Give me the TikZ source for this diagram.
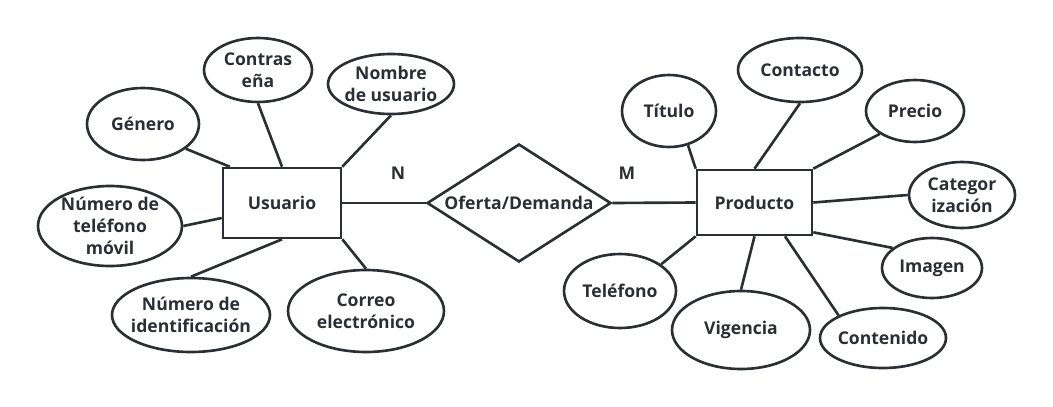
\documentclass[tikz,border=0pt]{standalone}
\usepackage{fontspec}
\setmainfont{Open Sans}
\usepackage{xcolor}
\usetikzlibrary{shapes.geometric, positioning}
\definecolor{ink}{HTML}{2B2E33}

\begin{document}
\begin{tikzpicture}[x=0.02cm, y=-0.02cm, color=ink, line width=1.5pt,
    font=\bfseries\fontsize{10}{12.5}\selectfont,
    attr/.style={draw, ellipse, inner sep=-3pt, align=center},
    entity/.style={draw, rectangle, inner sep=0pt},
    rel/.style={draw, diamond, inner sep=0pt, aspect=1.55}]
    \useasboundingbox (0,0) rectangle (1053,406);

    % left entity and its attributes
    \node[entity, minimum width=2.36cm, minimum height=1.4cm] (usuario) at (282,203) {Usuario};
    \node[attr, minimum width=2.16cm, minimum height=1.28cm] (contra) at (258,70) {Contras\\eña};
    \node[attr, minimum width=2.52cm, minimum height=1.2cm] (nombre) at (391,84) {Nombre\\de usuario};
    \node[attr, minimum width=2.24cm, minimum height=1.44cm] (genero) at (143,124) {Género};
    \node[attr, minimum width=2.88cm, minimum height=1.6cm] (movil) at (110,226) {Número de\\teléfono\\móvil};
    \node[attr, minimum width=3.16cm, minimum height=1.48cm] (ident) at (191,315) {Número de\\identificación};
    \node[attr, minimum width=3.12cm, minimum height=1.64cm] (correo) at (366,311) {Correo\\electrónico};

    % relationship
    \node[rel, minimum width=3.68cm, minimum height=2.36cm] (oferta) at (519,203) {Oferta/Demanda};
    \node (labN) at (398,173) {N};
    \node (labM) at (627,173) {M};

    % right entity and its attributes
    \node[entity, minimum width=2.3cm, minimum height=1.3cm] (producto) at (754.5,202.5) {Producto};
    \node[attr, minimum width=1.88cm, minimum height=1.44cm] (titulo) at (669,111) {Título};
    \node[attr, minimum width=2.48cm, minimum height=1.28cm] (contacto) at (800,70) {Contacto};
    \node[attr, minimum width=1.96cm, minimum height=1.24cm] (precio) at (915,111) {Precio};
    \node[attr, minimum width=2.12cm, minimum height=1.32cm] (categ) at (962,195) {Categor\\ización};
    \node[attr, minimum width=2.0cm, minimum height=1.2cm] (imagen) at (932,268) {Imagen};
    \node[attr, minimum width=2.52cm, minimum height=1.2cm] (contenido) at (883,338) {Contenido};
    \node[attr, minimum width=2.76cm, minimum height=1.56cm] (vigencia) at (741,330) {Vigencia};
    \node[attr, minimum width=2.24cm, minimum height=1.48cm] (telefono) at (620,291) {Teléfono};

    \draw (genero.-30) -- ([xshift=0.16cm]usuario.north west);
    \draw (contra.south) -- (usuario.north);
    \draw (nombre.south) -- (usuario.north east);
    \draw (movil.east) -- ([yshift=-0.3cm]usuario.west);
    \draw (ident.north) -- (usuario.south);
    \draw (correo.north) -- (usuario.south east);

    \draw (usuario.east) -- (oferta.west);
    \draw (oferta.east) -- (producto.west);

    \draw (titulo.-61) -- (producto.north west);
    \draw (contacto.south) -- (producto.north);
    \draw (precio.-147) -- (producto.north east);
    \draw (categ.west) -- (producto.east);
    \draw (imagen.153) -- ([yshift=0.08cm]producto.south east);
    \draw (contenido.153) -- ([xshift=0.61cm]producto.south);
    \draw (vigencia.north) -- (producto.south);
    \draw (telefono.33) -- (producto.south west);
\end{tikzpicture}
\end{document}
